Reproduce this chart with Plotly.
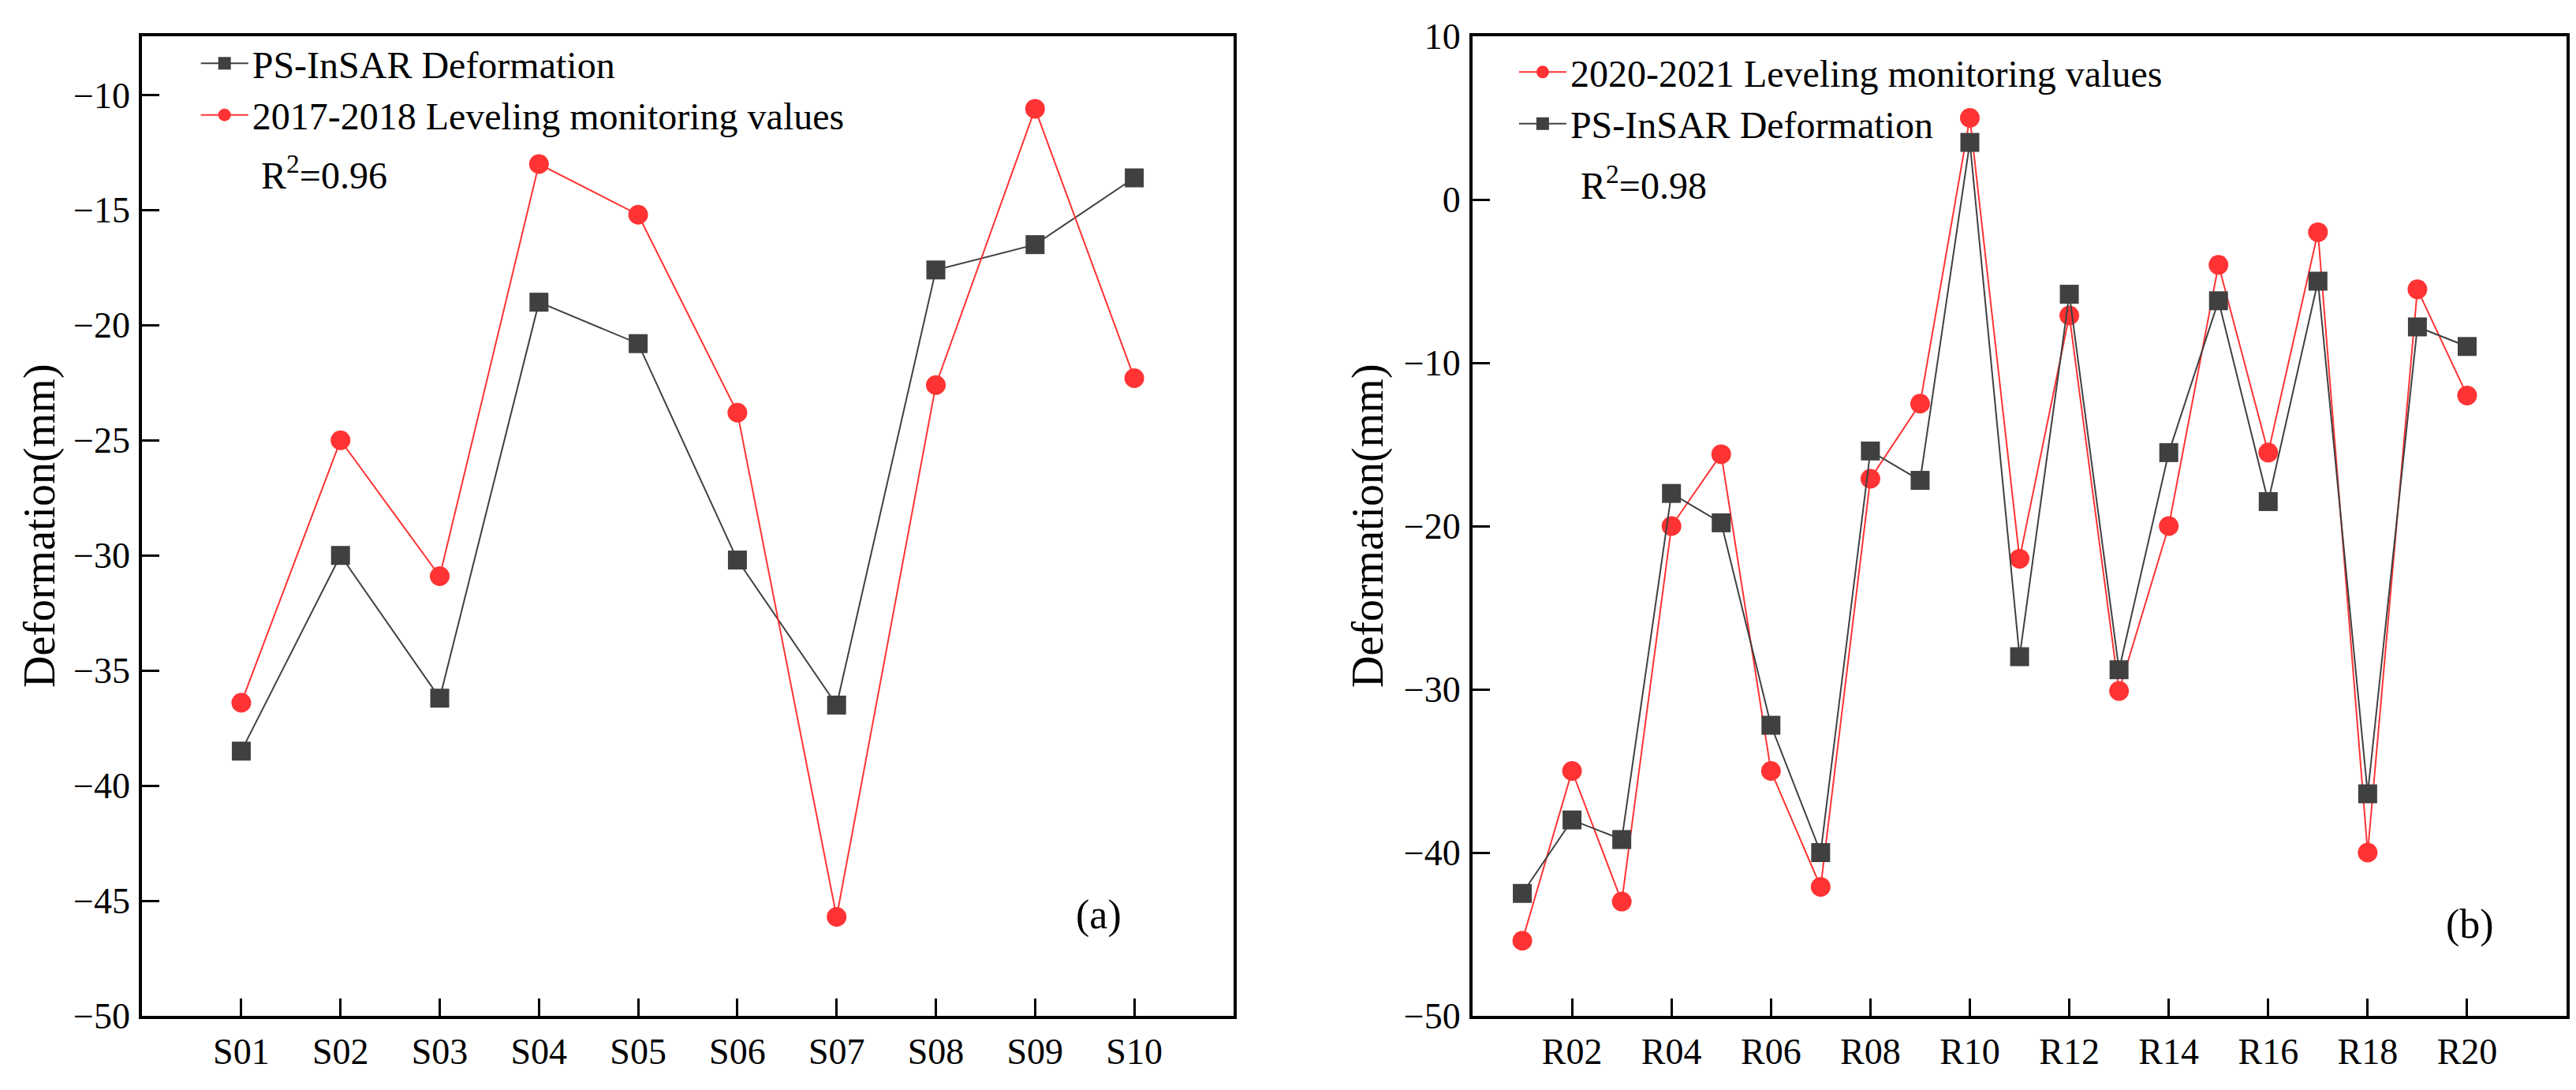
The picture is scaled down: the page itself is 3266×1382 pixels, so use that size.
import plotly.graph_objects as go

# ---- data ----
S_LABELS = ["S01", "S02", "S03", "S04", "S05", "S06", "S07", "S08", "S09", "S10"]
S_PS = [-38.5, -30.0, -36.2, -19.0, -20.8, -30.2, -36.5, -17.6, -16.5, -13.6]
S_LEVEL = [-36.4, -25.0, -30.9, -13.0, -15.2, -23.8, -45.7, -22.6, -10.6, -22.3]

R_LABELS = ["R%02d" % i for i in range(1, 21)]
R_LEVEL = [-45.4, -35.0, -43.0, -20.0, -15.6, -35.0, -42.1, -17.1, -12.5, 5.0,
           -22.0, -7.1, -30.1, -20.0, -4.0, -15.5, -2.0, -40.0, -5.5, -12.0]
R_PS = [-42.5, -38.0, -39.2, -18.0, -19.8, -32.2, -40.0, -15.4, -17.2, 3.5,
        -28.0, -5.8, -28.8, -15.5, -6.2, -18.5, -5.0, -36.4, -7.8, -9.0]

RED = "#FF3333"
GRAY = "#404040"
FONT = "Liberation Serif"
W, H = 3266, 1382

s_x = list(range(1, len(S_LABELS) + 1))
r_x = list(range(1, len(R_LABELS) + 1))

fig = go.Figure()

# (a)
fig.add_trace(go.Scatter(x=s_x, y=S_PS, name="PS-InSAR Deformation", mode="lines+markers",
                         line=dict(color=GRAY, width=2), marker=dict(symbol="square", size=24, color=GRAY),
                         xaxis="x", yaxis="y", legend="legend"))
fig.add_trace(go.Scatter(x=s_x, y=S_LEVEL, name="2017-2018 Leveling monitoring values", mode="lines+markers",
                         line=dict(color=RED, width=2), marker=dict(symbol="circle", size=25, color=RED),
                         xaxis="x", yaxis="y", legend="legend"))
# (b)
fig.add_trace(go.Scatter(x=r_x, y=R_LEVEL, name="2020-2021 Leveling monitoring values", mode="lines+markers",
                         line=dict(color=RED, width=2), marker=dict(symbol="circle", size=25, color=RED),
                         xaxis="x2", yaxis="y2", legend="legend2"))
fig.add_trace(go.Scatter(x=r_x, y=R_PS, name="PS-InSAR Deformation", mode="lines+markers",
                         line=dict(color=GRAY, width=2), marker=dict(symbol="square", size=24, color=GRAY),
                         xaxis="x2", yaxis="y2", legend="legend2"))

ax = dict(showline=True, linewidth=4, linecolor="black", mirror=True, showgrid=False, zeroline=False,
          ticks="inside", ticklen=22, tickwidth=3, tickcolor="black", automargin=False,
          tickfont=dict(family=FONT, size=46, color="black"))

leg = dict(xanchor="left", yanchor="top", bgcolor="rgba(0,0,0,0)",
           font=dict(family=FONT, size=48), itemwidth=60, tracegroupgap=0)

def txt(s, x, y, size=48, angle=0, anchor="center"):
    return dict(text=s, xref="paper", yref="paper", x=x / W, y=1 - y / H, xanchor=anchor,
                yanchor="middle", showarrow=False, textangle=angle, font=dict(family=FONT, size=size))

fig.update_layout(
    width=W, height=H,
    paper_bgcolor="white", plot_bgcolor="white",
    margin=dict(l=0, r=0, t=0, b=0),
    font=dict(family=FONT, color="black"),
    xaxis=dict(ax, domain=[0.0527, 0.4764], range=[0, 11], anchor="y", tickmode="array",
               tickvals=s_x, ticktext=S_LABELS, ticklabelstandoff=2),
    yaxis=dict(ax, domain=[0.0738, 0.9725], range=[-50, -7.45], anchor="x", dtick=5, ticklabelstandoff=2),
    xaxis2=dict(ax, domain=[0.5692, 0.9939], range=[0, 22], anchor="y2", tickmode="array",
                tickvals=r_x[1::2], ticktext=R_LABELS[1::2], ticklabelstandoff=2),
    yaxis2=dict(ax, domain=[0.0738, 0.9725], range=[-50, 10], anchor="x2", dtick=10, ticklabelstandoff=2),
    legend=dict(leg, x=0.074, y=0.975),
    legend2=dict(leg, x=0.5857, y=0.967),
    annotations=[
        txt("Deformation(mm)", 43, 659, size=56, angle=-90),
        txt("Deformation(mm)", 1727, 659, size=56, angle=-90),
        txt("R<sup>2</sup>=0.96", 321, 211, anchor="left"),
        txt("R<sup>2</sup>=0.98", 1994, 224, anchor="left"),
        dict(text="(a)", xref="x", yref="y", x=9.64, y=-45.6, showarrow=False,
             font=dict(family=FONT, size=52)),
        dict(text="(b)", xref="x2", yref="y2", x=20.06, y=-44.4, showarrow=False,
             font=dict(family=FONT, size=52)),
    ],
)

fig.write_html("out.html")
